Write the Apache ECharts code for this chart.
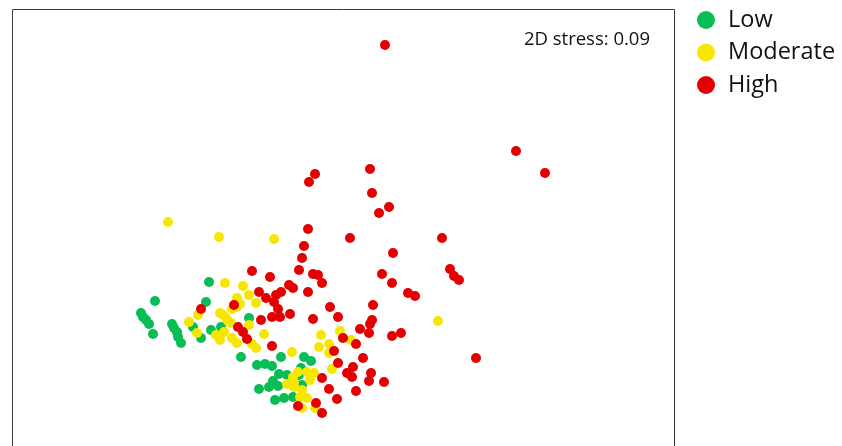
<!DOCTYPE html>
<html>
<head>
<meta charset="utf-8">
<script src="https://cdn.jsdelivr.net/npm/echarts@6/dist/echarts.min.js"></script>
<style>
  html, body { margin: 0; padding: 0; background: #fff; }
  #chart { width: 842px; height: 446px; }
</style>
</head>
<body>
<div id="chart"></div>
<script>
// NMDS ordination scores (NMDS1, NMDS2) per site, grouped by impact level
const groups = ['Low', 'Moderate', 'High'];
const stressLabel = '2D stress: 0.09';

const lowSites = [
  [-0.885,-0.255],[-0.955,-0.315],[-0.945,-0.335],[-0.93,-0.35],[-0.915,-0.37],[-0.895,-0.42],
  [-0.80,-0.37],[-0.79,-0.39],[-0.775,-0.41],[-0.77,-0.435],[-0.755,-0.465],
  [-0.615,-0.16],[-0.63,-0.26],[-0.695,-0.385],[-0.655,-0.44],[-0.605,-0.40],[-0.555,-0.385],[-0.415,-0.34],
  [-0.455,-0.535],[-0.375,-0.575],[-0.335,-0.57],[-0.30,-0.58],[-0.255,-0.535],[-0.14,-0.535],[-0.105,-0.555],[-0.155,-0.59],
  [-0.265,-0.62],[-0.225,-0.625],[-0.295,-0.655],[-0.27,-0.68],[-0.315,-0.685],[-0.365,-0.695],[-0.165,-0.625],[-0.15,-0.675],
  [-0.285,-0.75],[-0.24,-0.74],[-0.195,-0.735]
];

const moderateSites = [
  [-0.82,0.14],[-0.565,0.065],[-0.29,0.055],[-0.535,-0.165],[-0.445,-0.18],[-0.475,-0.24],[-0.415,-0.225],
  [-0.38,-0.265],[-0.475,-0.285],[-0.46,-0.27],[-0.50,-0.295],[-0.67,-0.325],[-0.715,-0.36],[-0.56,-0.315],
  [-0.545,-0.325],[-0.53,-0.34],[-0.52,-0.355],[-0.505,-0.365],[-0.415,-0.375],[-0.675,-0.415],[-0.58,-0.425],
  [-0.56,-0.45],[-0.54,-0.41],[-0.50,-0.44],[-0.475,-0.465],[-0.34,-0.42],[-0.40,-0.47],[-0.38,-0.49],[-0.20,-0.51],
  [-0.055,-0.425],[0.04,-0.405],[0.095,-0.45],[-0.065,-0.485],[-0.015,-0.47],[-0.015,-0.515],[0.0,-0.595],[0.53,-0.355],
  [-0.125,-0.61],[-0.09,-0.615],[-0.11,-0.65],[-0.17,-0.61],[-0.195,-0.635],[-0.19,-0.665],[-0.225,-0.67],
  [-0.19,-0.685],[-0.15,-0.70],[-0.16,-0.735],[-0.125,-0.74],[-0.15,-0.79],[-0.085,-0.79]
];

const highSites = [
  [0.265,1.025],[0.92,0.495],[1.065,0.385],[0.19,0.405],[-0.085,0.38],[-0.115,0.34],[0.20,0.285],[0.285,0.215],[0.235,0.185],
  [-0.12,0.105],[0.09,0.06],[0.55,0.06],[-0.14,0.02],[0.305,-0.015],[-0.15,-0.04],[-0.40,-0.105],[-0.165,-0.10],[-0.31,-0.135],
  [0.59,-0.095],[0.61,-0.13],[0.635,-0.15],[-0.095,-0.12],[-0.07,-0.125],[0.25,-0.12],[0.30,-0.165],[-0.05,-0.165],
  [-0.215,-0.175],[-0.195,-0.19],[-0.12,-0.21],[-0.255,-0.21],[-0.28,-0.225],[-0.365,-0.21],[-0.33,-0.24],[-0.29,-0.26],[-0.27,-0.295],
  [0.38,-0.215],[0.415,-0.23],[0.205,-0.275],[-0.01,-0.285],[0.03,-0.335],[-0.21,-0.32],[-0.095,-0.345],[-0.30,-0.335],[-0.26,-0.335],[-0.355,-0.35],
  [0.20,-0.35],[0.19,-0.37],[0.14,-0.395],[0.185,-0.415],[0.30,-0.43],[0.345,-0.415],[0.055,-0.44],[0.12,-0.47],
  [-0.655,-0.295],[-0.49,-0.275],[-0.47,-0.385],[-0.445,-0.41],[-0.425,-0.445],[-0.30,-0.48],
  [0.01,-0.505],[0.155,-0.54],[0.03,-0.565],[0.105,-0.585],[0.075,-0.615],[0.10,-0.635],[0.195,-0.615],[0.185,-0.655],[0.26,-0.66],[0.72,-0.54],
  [-0.05,-0.64],[-0.015,-0.695],[0.025,-0.745],[0.12,-0.705],[-0.08,-0.765],[-0.17,-0.78],[-0.05,-0.815]
];

const groupColors = ['#08BD55', '#F7E600', '#E40000'];
const groupData = [lowSites, moderateSites, highSites];

const chart = echarts.init(document.getElementById('chart'), null, { renderer: 'canvas' });

chart.setOption({
  animation: false,
  backgroundColor: '#ffffff',
  grid: {
    show: false,
    left: 12, top: 9, right: 168, bottom: 1
  },
  xAxis: {
    type: 'value', min: -1.6, max: 1.71, show: false
  },
  yAxis: {
    type: 'value', min: -0.975, max: 1.205, show: false
  },
  legend: {
    data: groups,
    orient: 'vertical',
    left: 697, top: 8,
    itemWidth: 18, itemHeight: 18, itemGap: 8.5,
    icon: 'circle',
    padding: 0,
    textStyle: {
      fontFamily: 'Open Sans', fontSize: 23.5, color: '#111',
      padding: [0, 0, 0, 8]
    }
  },
  graphic: [
    {
      // plot frame, open at the bottom edge of the canvas
      type: 'rect',
      shape: { x: 12.5, y: 9.5, width: 662, height: 460 },
      style: { fill: 'none', stroke: '#3a3a3a', lineWidth: 1 },
      silent: true,
      z: 1
    },
    {
      type: 'text',
      right: 842 - 650, top: 30,
      style: { text: stressLabel, font: '18.5px "Open Sans"', fill: '#111' }
    }
  ],
  series: groups.map((name, i) => ({
    name,
    type: 'scatter',
    data: groupData[i],
    symbol: 'circle',
    symbolSize: 10,
    itemStyle: { color: groupColors[i], opacity: 1 },
    z: 2 + i
  }))
});
</script>
</body>
</html>
